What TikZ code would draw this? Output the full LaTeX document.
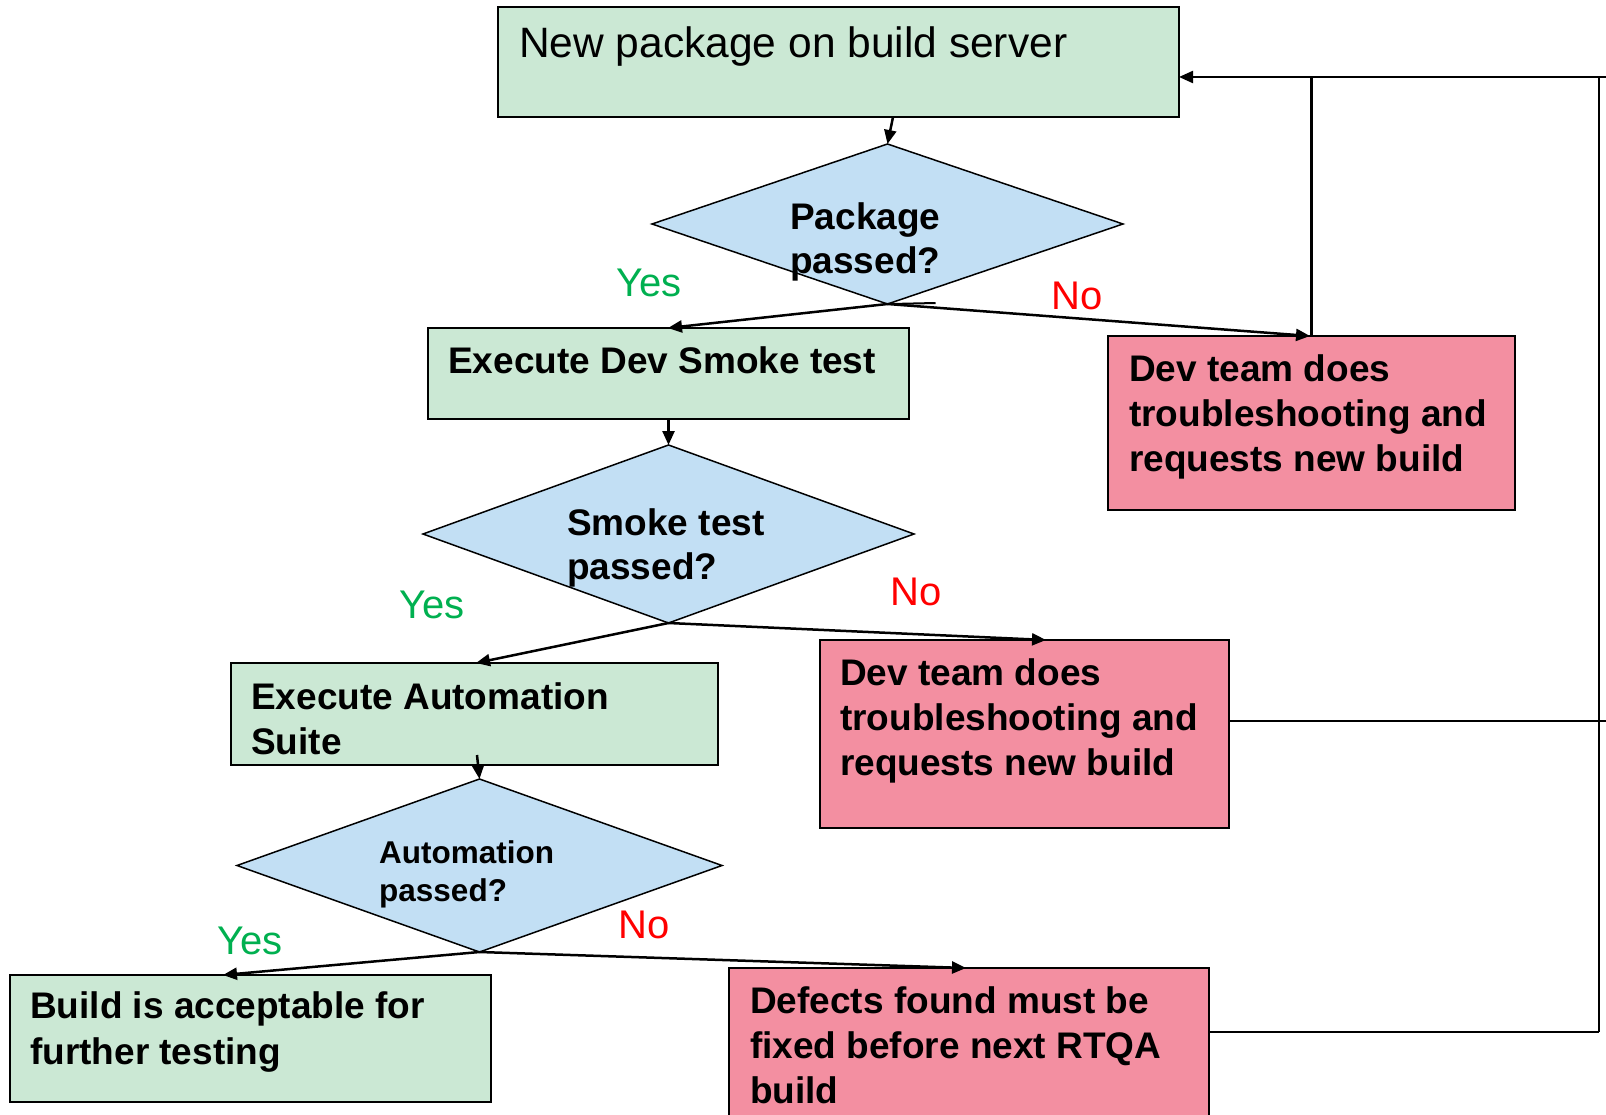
\documentclass[tikz,border=0pt]{standalone}
\usepackage{fontspec}
\setmainfont{Liberation Sans}
\usetikzlibrary{shapes.geometric,arrows.meta,fit}
\definecolor{boxgreen}{HTML}{CBE8D4}
\definecolor{boxpink}{HTML}{F38FA1}
\definecolor{diablue}{HTML}{C2DFF4}
\definecolor{yesgreen}{HTML}{00B050}
\definecolor{nored}{HTML}{FF0000}
\newcommand{\ml}[1]{\begin{tabular}[t]{@{}l@{}}#1\end{tabular}}
\tikzset{
  gbox/.style={draw, fill=boxgreen, line width=2pt, inner sep=0pt, outer sep=0pt},
  pbox/.style={draw, fill=boxpink, line width=2pt, inner sep=0pt, outer sep=0pt},
  dia/.style={diamond, draw, fill=diablue, line width=1.5pt, inner sep=0pt, outer sep=0pt},
  txt/.style={anchor=base west, inner sep=0pt},
  bigtxt/.style={txt, font=\fontsize{42.5}{51}\selectfont},
  btxt/.style={txt, font=\fontsize{37}{45}\selectfont\bfseries},
  stxt/.style={txt, font=\fontsize{31.5}{37}\selectfont\bfseries},
  yeslbl/.style={txt, text=yesgreen, font=\fontsize{40}{48}\selectfont},
  nolbl/.style={txt, text=nored, font=\fontsize{40}{48}\selectfont},
  conn/.style={line width=2.5pt, -{Triangle[length=14pt,width=12pt]}},
  fb/.style={line width=2.2pt},
}
\begin{document}
\begin{tikzpicture}[x=1pt,y=-1pt]
\useasboundingbox (0,0) rectangle (1606,1115);
\fill[white] (0,0) rectangle (1606,1115);

% boxes
\node[gbox, fit={(498,7)(1179,117)}] (b1) {};
\node[gbox, fit={(428,328)(909,419)}] (b2) {};
\node[pbox, fit={(1108,336)(1515,510)}] (b3) {};
\node[gbox, fit={(231,663)(718,765)}] (b4) {};
\node[pbox, fit={(820,640)(1229,828)}] (b5) {};
\node[gbox, fit={(10,975)(491,1102)}] (b6) {};
\node[pbox, fit={(729,968)(1209,1125)}] (b7) {};

% diamonds
\node[dia, minimum width=471pt, minimum height=160pt] (d1) at (887.5,224) {};
\node[dia, minimum width=491pt, minimum height=178pt] (d2) at (668.5,534) {};
\node[dia, minimum width=485pt, minimum height=173pt] (d3) at (479.5,865.5) {};

% texts
\node[bigtxt] (t1) at (519,58) {New package on build server};
\node[btxt, font=\fontsize{37}{44}\selectfont\bfseries] (t2) at (790,230) {\ml{Package\\passed?}};
\node[btxt] (t3) at (448,373) {Execute Dev Smoke test};
\node[btxt] (t4) at (1129,381) {\ml{Dev team does\\troubleshooting and\\requests new build}};
\node[btxt, font=\fontsize{37}{44}\selectfont\bfseries] (t5) at (567,535) {\ml{Smoke test\\passed?}};
\node[btxt] (t6) at (251,709) {\ml{Execute Automation\\Suite}};
\node[btxt] (t7) at (840,685) {\ml{Dev team does\\troubleshooting and\\requests new build}};
\node[stxt, font=\fontsize{31.5}{38}\selectfont\bfseries] (t8) at (379,863) {\ml{Automation\\passed?}};
\node[btxt, font=\fontsize{37}{46}\selectfont\bfseries] (t9) at (30,1018) {\ml{Build is acceptable for\\further testing}};
\node[btxt] (t10) at (750,1013) {\ml{Defects found must be\\fixed before next RTQA\\build}};

% labels
\node[yeslbl] (y1) at (616,297) {Yes};
\node[nolbl] (n1) at (1051,309) {No};
\node[yeslbl] (y2) at (399,618) {Yes};
\node[nolbl] (n2) at (890,605) {No};
\node[yeslbl] (y3) at (217,954) {Yes};
\node[nolbl] (n3) at (618,938) {No};

% main connectors
\draw[conn] ([xshift=395pt]b1.south west) -- (d1.north);
\draw[line width=2pt] ([xshift=4pt]d1.south) -- ++(44,-1);
\draw[conn] (d1.south) -- ([xshift=240pt]b2.north west);
\draw[conn] (d1.south) -- ([xshift=202pt]b3.north west);
\draw[conn] (b2.south) -- (d2.north);
\draw[conn] (d2.south) -- ([xshift=245pt]b4.north west);
\draw[conn] (d2.south) -- ([xshift=226pt]b5.north west);
\draw[conn] ([xshift=246pt,yshift=10pt]b4.south west) -- (d3.north);
\draw[conn] (d3.south) -- ([xshift=213pt]b6.north west);
\draw[conn] (d3.south) -- ([xshift=237pt]b7.north west);

% feedback loops
\coordinate (rt) at (1606,77);
\coordinate (vt) at (1599,77);
\coordinate (vb) at (1599,1032);
\draw[fb, -{Triangle[length=14pt,width=12pt]}] (rt) -- (b1.east |- rt);
\draw[fb] (b3.north) -- (b3.north |- rt);
\draw[fb] (vt) -- (vb);
\draw[fb] ([yshift=13pt]b5.east) -- ([yshift=13pt]b5.east -| rt);
\draw[fb] ([yshift=14.5pt]b7.east) -- ([yshift=14.5pt]b7.east -| vb);
\end{tikzpicture}
\end{document}
